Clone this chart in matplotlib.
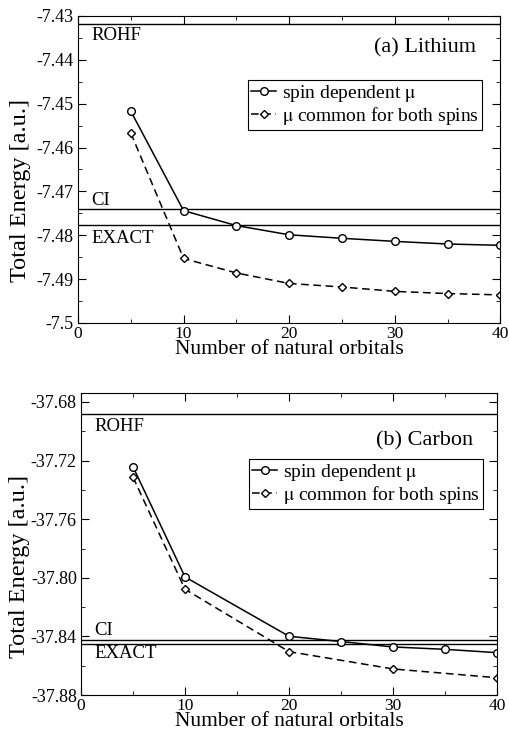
import matplotlib
matplotlib.use("Agg")
import matplotlib.pyplot as plt
from matplotlib.ticker import MultipleLocator

plt.rcParams['font.family'] = ['Liberation Serif', 'DejaVu Serif']
plt.rcParams['mathtext.fontset'] = 'stix'

# (a) Lithium
li_x_spin = [5, 10, 15, 20, 25, 30, 35, 40]
li_e_spin = [-7.4517, -7.4744, -7.4778, -7.4799, -7.4807, -7.4814, -7.4820, -7.4823]
li_x_common = [5, 10, 15, 20, 25, 30, 35, 40]
li_e_common = [-7.4567, -7.4853, -7.4886, -7.4910, -7.4918, -7.4928, -7.4933, -7.4936]
li_refs = {'ROHF': -7.4318, 'CI': -7.4741, 'EXACT': -7.4777}

# (b) Carbon
c_x_spin = [5, 10, 20, 25, 30, 35, 40]
c_e_spin = [-37.7242, -37.7994, -37.8399, -37.8435, -37.8472, -37.8488, -37.8511]
c_x_common = [5, 10, 20, 30, 40]
c_e_common = [-37.7313, -37.8078, -37.8504, -37.8622, -37.8682]
c_refs = {'ROHF': -37.688, 'CI': -37.8425, 'EXACT': -37.8454}


def panel(ax, xs, es, xc, ec, refs, ylim, ymaj, ymin, title, label_pos, leg_anchor, ylab_xy):
    for k, v in refs.items():
        ax.axhline(v, color='black', lw=1.0)
    ax.plot(xs, es, '-o', color='black', lw=1.1, mfc='white', ms=5.5,
            label=r'spin dependent $\mathrm{\mu}$')
    ax.plot(xc, ec, 'D', ls=(0, (5, 3)), color='black', lw=1.1, mfc='white', ms=4.5,
            label=r'$\mathrm{\mu}$ common for both spins')
    ax.set_xlim(0, 40)
    ax.set_ylim(*ylim)
    ax.xaxis.set_major_locator(MultipleLocator(10))
    ax.xaxis.set_minor_locator(MultipleLocator(5))
    ax.yaxis.set_major_locator(MultipleLocator(ymaj))
    ax.yaxis.set_minor_locator(MultipleLocator(ymin))
    ax.tick_params(which='both', direction='in', top=True, right=True, labelsize=13)
    ax.tick_params(axis='x', labelsize=12.5, pad=2)
    ax.tick_params(axis='y', pad=3)
    ax.tick_params(which='major', length=6)
    ax.tick_params(which='minor', length=3)
    ax.set_ylabel('Total Energy [a.u.]', fontsize=17.5)
    ax.yaxis.set_label_coords(*ylab_xy)
    ax.set_xlabel('Number of natural orbitals', fontsize=15.5, labelpad=-1)
    for name, (x, y) in label_pos.items():
        ax.text(x, y, name, fontsize=13.5, ha='left', va='center')
    ax.text(37.7, title[1], title[0], fontsize=16, ha='right', va='center')
    leg = ax.legend(loc='upper right', bbox_to_anchor=leg_anchor, fontsize=14,
                    frameon=True, fancybox=False, edgecolor='black', framealpha=1,
                    handlelength=1.3, handletextpad=0.3, borderpad=0.15,
                    labelspacing=0.05, borderaxespad=0)
    leg.get_frame().set_linewidth(0.8)


fig = plt.figure(figsize=(5.09, 7.34), dpi=100)
ax1 = fig.add_axes([0.1532, 0.560, 0.830, 0.4183])
ax2 = fig.add_axes([0.1591, 0.0531, 0.8174, 0.4114])

panel(ax1, li_x_spin, li_e_spin, li_x_common, li_e_common, li_refs,
      (-7.5, -7.43), 0.01, 0.005, ('(a) Lithium', -7.4372),
      {'ROHF': (1.3, -7.4345), 'CI': (1.3, -7.4720), 'EXACT': (1.3, -7.4808)},
      (0.956, 0.7915), (-0.112, 0.433))
ax1.set_yticks([-7.5, -7.49, -7.48, -7.47, -7.46, -7.45, -7.44, -7.43])
ax1.set_yticklabels(['-7.5', '-7.49', '-7.48', '-7.47', '-7.46', '-7.45', '-7.44', '-7.43'])

panel(ax2, c_x_spin, c_e_spin, c_x_common, c_e_common, c_refs,
      (-37.88, -37.6739), 0.04, 0.02, ('(b) Carbon', -37.7065),
      {'ROHF': (1.3, -37.6965), 'CI': (1.3, -37.8360), 'EXACT': (1.3, -37.8515)},
      (0.966, 0.781), (-0.122, 0.424))
ax2.set_yticks([-37.88, -37.84, -37.80, -37.76, -37.72, -37.68])
ax2.set_yticklabels(['-37.88', '-37.84', '-37.80', '-37.76', '-37.72', '-37.68'])

fig.savefig('out.png', dpi=100)
